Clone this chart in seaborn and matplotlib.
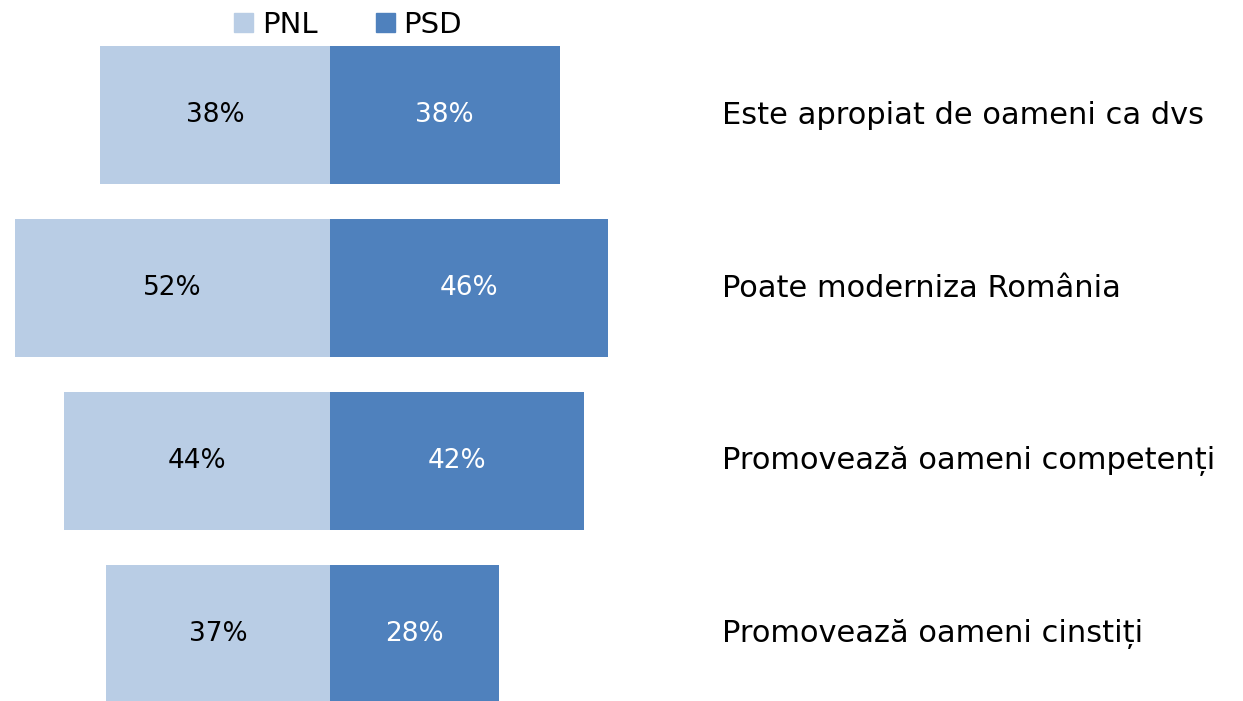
import pandas as pd
import matplotlib.pyplot as plt
import seaborn as sns
from matplotlib.patches import Patch

# data
categories = ["Este apropiat de oameni ca dvs", "Poate moderniza România",
              "Promovează oameni competenți", "Promovează oameni cinstiți"]
pnl = [38, 52, 44, 37]
psd = [38, 46, 42, 28]

light = "#B9CDE5"
dark = "#4F81BD"

sns.set_style("white")
plt.rcParams["font.family"] = ["DejaVu Sans"]

fig = plt.figure(figsize=(12.43, 7.01), dpi=100)
ax = fig.add_axes([0, 0, 1, 1])

df = pd.DataFrame({"cat": categories, "PNL": [-v for v in pnl], "PSD": psd})
sns.barplot(data=df, x="PNL", y="cat", color=light, saturation=1, width=0.8,
            orient="h", linewidth=0, ax=ax)
sns.barplot(data=df, x="PSD", y="cat", color=dark, saturation=1, width=0.8,
            orient="h", linewidth=0, ax=ax)

# percentage labels centred in the bars, category names on the right
for i, (a, b) in enumerate(zip(pnl, psd)):
    ax.text(-a / 2, i, f"{a}%", ha="center", va="center", fontsize=19, color="black")
    ax.text(b / 2, i, f"{b}%", ha="center", va="center", fontsize=19, color="white")
    ax.text(64.8, i, categories[i], ha="left", va="center", fontsize=22, color="black")

ax.set_xlim(-54.5, 150.9)
ax.set_ylim(3.387, -0.665)
ax.axis("off")

handles = [Patch(color=light, label="PNL"), Patch(color=dark, label="PSD")]
leg = fig.legend(handles=handles, loc="center", bbox_to_anchor=(0.28, 0.965), ncol=2,
                 frameon=False, fontsize=21, handlelength=0.65, handleheight=0.65,
                 handletextpad=0.3, columnspacing=2.0)
for t in leg.get_texts():
    t.set_color("black")

fig.savefig("out.png", dpi=100)
